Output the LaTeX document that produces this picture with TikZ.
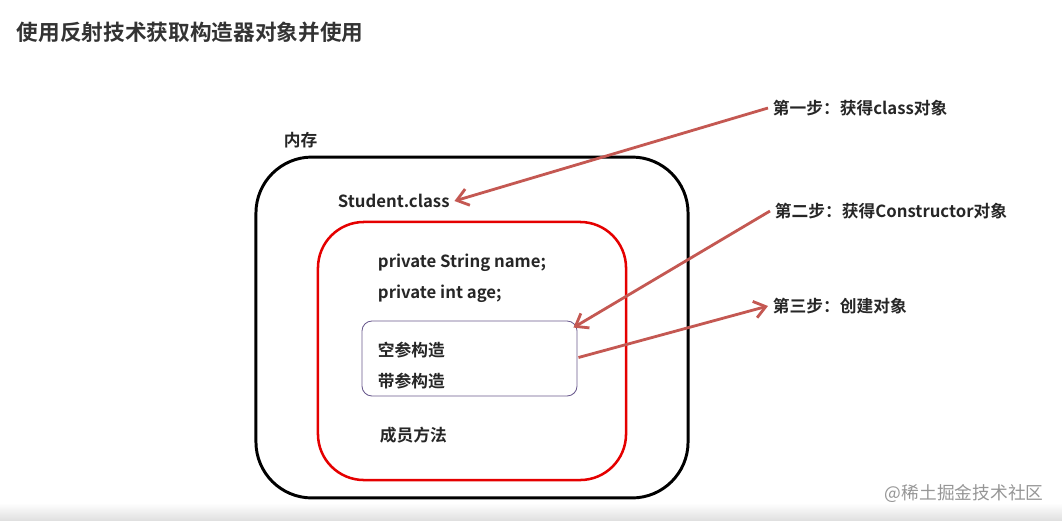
\documentclass[tikz,border=0pt]{standalone}
\usepackage{fontspec}
\usetikzlibrary{arrows.meta}
\newfontfamily\cjkb{Noto Sans CJK SC Bold}
\newfontfamily\cjk{Noto Sans CJK SC}
\definecolor{arrowred}{RGB}{196,88,82}
\definecolor{ctorline}{RGB}{104,88,140}
\definecolor{wmgray}{RGB}{150,150,150}

\begin{document}
\begin{tikzpicture}[
    x=0.025cm, y=-0.025cm,
    txt/.style={anchor=west, font=\cjkb\fontsize{11.9}{14}\selectfont, text=black!85},
    stepline/.style={draw=arrowred, line width=2pt, -{Straight Barb[length=8pt, width=12pt, line width=2pt]}},
    box/.style={draw, rounded corners=#1}
]
    \useasboundingbox (0,0) rectangle (1062,520);
    \shade[top color=white, bottom color=black!12] (0,503) rectangle (1062,520);

    \node[anchor=west, font=\cjkb\fontsize{15.4}{18}\selectfont, text=black!80] (title) at (12,32) {使用反射技术获取构造器对象并使用};
    \node[txt] (mem) at (279,140) {内存};

    % boxes
    \node[box=1.4cm, line width=2.1pt, minimum width=10.8cm, minimum height=8.52cm] (memory) at (472,327.5) {};
    \node[box=1.15cm, draw=red!90!black, line width=1.8pt, minimum width=7.7cm, minimum height=6.45cm] (classbox) at (472,351) {};
    \node[box=0.25cm, draw=ctorline, line width=0.6pt, minimum width=5.375cm, minimum height=1.875cm] (ctor) at (469.5,358.5) {};

    % texts
    \node[txt] (stu) at (333,201) {Student.class};
    \node[txt] (name) at (373,263) {private String name;};
    \node[txt] (age) at (373,294) {private int age;};
    \node[txt] (noarg) at (373,350) {空参构造};
    \node[txt] (arg) at (373,381) {带参构造};
    \node[txt] (method) at (375,435) {成员方法};

    \node[txt] (step1) at (768,108) {第一步：获得class对象};
    \node[txt] (step2) at (770,211) {第二步：获得Constructor对象};
    \node[txt] (step3) at (768,306) {第三步：创建对象};

    % arrows
    \draw[stepline] (step1.west) -- (stu.east);
    \draw[stepline] (step2.west) -- ([shift={(-4,7)}]ctor.north east);
    \draw[stepline] ([shift={(1,-1)}]ctor.east) -- (step3.west);

    \node[anchor=west, font=\cjk\fontsize{12.6}{14}\selectfont, text=wmgray] (mark) at (880,493) {@稀土掘金技术社区};
\end{tikzpicture}
\end{document}
